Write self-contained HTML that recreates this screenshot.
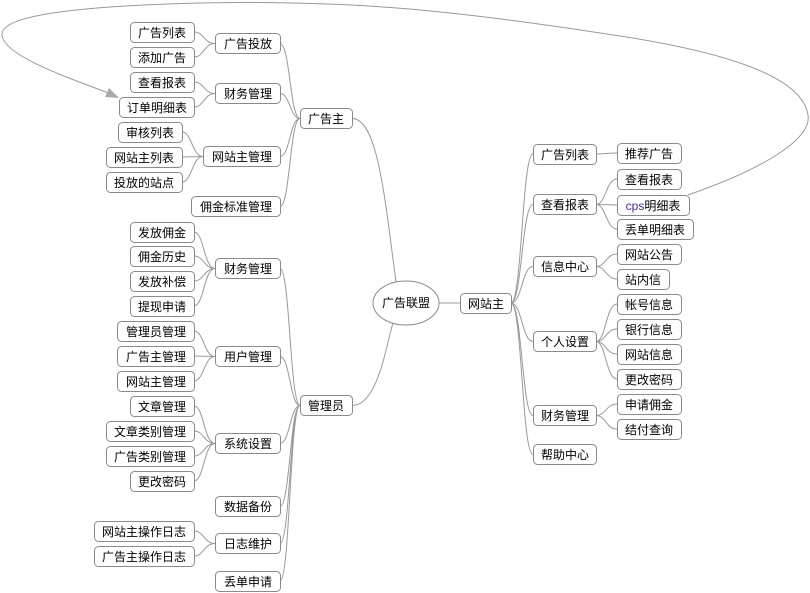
<!DOCTYPE html>
<html><head><meta charset="utf-8"><style>
html,body{margin:0;padding:0;background:#fff;}
svg{display:block;}
text{font-family:"Liberation Sans","Noto Sans CJK SC","WenQuanYi Zen Hei",sans-serif;font-size:12px;fill:#000;text-anchor:middle;}
rect{fill:#fff;stroke:#8a8a8a;stroke-width:1;}
path{fill:none;stroke:#999;stroke-width:1;}
</style></head><body>
<svg width="810" height="593" viewBox="0 0 810 593" xmlns="http://www.w3.org/2000/svg">
<!-- loop -->
<path d="M688,195 C760,170 812,140 808,115 C802,75 720,50 600,33 C450,10 350,0 200,3 C80,6 0,15 2,35 C4,55 60,75 114,95" stroke="#aaa"/>
<polygon points="119,98 109,88 105,97" fill="#aaa"/>
<!-- left connectors -->
<path d="M215,43.5 C204,43.5 204,32 194,32 M215,43.5 C204,43.5 204,57 194,57"/>
<path d="M215,93.5 C204,93.5 204,82 194,82 M215,93.5 C204,93.5 204,107 194,107"/>
<path d="M203,156.5 C192,156.5 192,132 182,132 M203,156.5 L182,157 M203,156.5 C192,156.5 192,182 182,182"/>
<path d="M300,118.5 C290,118.5 290,43.5 280,43.5 M300,118.5 C290,118.5 290,93.5 280,93.5 M300,118.5 C290,118.5 290,156.5 280,156.5 M300,118.5 C290,118.5 290,206.5 280,206.5"/>
<path d="M300,405.5 C290,405.5 290,268.5 280,268.5 M300,405.5 C290,405.5 290,356.5 280,356.5 M300,405.5 C290,405.5 290,443.5 280,443.5 M300,405.5 C290,405.5 290,506.5 280,506.5 M300,405.5 C290,405.5 290,543.5 280,543.5 M300,405.5 C290,405.5 290,581 280,581"/>
<path d="M215,268.5 C204,268.5 204,232 194,232 M215,268.5 C204,268.5 204,256 194,256 M215,268.5 C204,268.5 204,281 194,281 M215,268.5 C204,268.5 204,306 194,306"/>
<path d="M215,356.5 C204,356.5 204,331 194,331 M215,356.5 L194,356 M215,356.5 C204,356.5 204,381 194,381"/>
<path d="M215,443.5 C204,443.5 204,406 194,406 M215,443.5 C204,443.5 204,431 194,431 M215,443.5 C204,443.5 204,456 194,456 M215,443.5 C204,443.5 204,481 194,481"/>
<path d="M215,543.5 C204,543.5 204,531 194,531 M215,543.5 C204,543.5 204,556 194,556"/>
<path d="M352,118.5 C378,118.5 385,200 396,282 M352,405.5 C378,405.5 386,345 393,323"/>
<path d="M439,303 L460,303"/>
<!-- right connectors -->
<path d="M511,303 C522,303 522,154 533,154 M511,303 C522,303 522,204.5 533,204.5 M511,303 C522,303 522,266.5 533,266.5 M511,303 C522,303 522,341.5 533,341.5 M511,303 C522,303 522,415.5 533,415.5 M511,303 C522,303 522,454.5 533,454.5"/>
<path d="M596,154 C606,154 606,153 617,153"/>
<path d="M596,204.5 C606,204.5 606,179 617,179 M596,204.5 L617,205 M596,204.5 C606,204.5 606,229 617,229"/>
<path d="M596,266.5 C606,266.5 606,254 617,254 M596,266.5 C606,266.5 606,279 617,279"/>
<path d="M596,341.5 C606,341.5 606,304 617,304 M596,341.5 C606,341.5 606,329 617,329 M596,341.5 C606,341.5 606,354 617,354 M596,341.5 C606,341.5 606,379 617,379"/>
<path d="M596,415.5 C606,415.5 606,404 617,404 M596,415.5 C606,415.5 606,429 617,429"/>
<!-- center -->
<ellipse cx="406" cy="303" rx="33" ry="22" fill="#fff" stroke="#8a8a8a"/>
<text x="406" y="307">广告联盟</text>
<!-- left boxes -->
<rect x="130.5" y="22.5" width="64" height="20" rx="4"/><text x="162" y="37">广告列表</text>
<rect x="130.5" y="47.5" width="64" height="20" rx="4"/><text x="162" y="62">添加广告</text>
<rect x="215.5" y="33.5" width="65" height="20" rx="4"/><text x="248" y="48">广告投放</text>
<rect x="130.5" y="72.5" width="64" height="20" rx="4"/><text x="162" y="87">查看报表</text>
<rect x="119.5" y="97.5" width="75" height="20" rx="4"/><text x="157" y="112">订单明细表</text>
<rect x="215.5" y="83.5" width="65" height="20" rx="4"/><text x="248" y="98">财务管理</text>
<rect x="118.5" y="122.5" width="64" height="20" rx="4"/><text x="150" y="137">审核列表</text>
<rect x="106.5" y="147.5" width="76" height="20" rx="4"/><text x="144" y="162">网站主列表</text>
<rect x="106.5" y="172.5" width="76" height="20" rx="4"/><text x="144" y="187">投放的站点</text>
<rect x="203.5" y="146.5" width="77" height="20" rx="4"/><text x="242" y="161">网站主管理</text>
<rect x="191.5" y="196.5" width="89" height="20" rx="4"/><text x="236" y="211">佣金标准管理</text>
<rect x="300.5" y="108.5" width="52" height="20" rx="4"/><text x="326" y="123">广告主</text>
<rect x="130.5" y="222.5" width="64" height="20" rx="4"/><text x="162" y="237">发放佣金</text>
<rect x="130.5" y="246.5" width="64" height="20" rx="4"/><text x="162" y="261">佣金历史</text>
<rect x="130.5" y="271.5" width="64" height="20" rx="4"/><text x="162" y="286">发放补偿</text>
<rect x="130.5" y="296.5" width="64" height="20" rx="4"/><text x="162" y="311">提现申请</text>
<rect x="215.5" y="258.5" width="65" height="20" rx="4"/><text x="248" y="273">财务管理</text>
<rect x="117.5" y="321.5" width="77" height="20" rx="4"/><text x="156" y="336">管理员管理</text>
<rect x="117.5" y="346.5" width="77" height="20" rx="4"/><text x="156" y="361">广告主管理</text>
<rect x="117.5" y="371.5" width="77" height="20" rx="4"/><text x="156" y="386">网站主管理</text>
<rect x="215.5" y="346.5" width="65" height="20" rx="4"/><text x="248" y="361">用户管理</text>
<rect x="130.5" y="396.5" width="64" height="20" rx="4"/><text x="162" y="411">文章管理</text>
<rect x="106.5" y="421.5" width="88" height="20" rx="4"/><text x="150" y="436">文章类别管理</text>
<rect x="106.5" y="446.5" width="88" height="20" rx="4"/><text x="150" y="461">广告类别管理</text>
<rect x="130.5" y="471.5" width="64" height="20" rx="4"/><text x="162" y="486">更改密码</text>
<rect x="215.5" y="433.5" width="65" height="20" rx="4"/><text x="248" y="448">系统设置</text>
<rect x="215.5" y="496.5" width="65" height="20" rx="4"/><text x="248" y="511">数据备份</text>
<rect x="94.5" y="521.5" width="100" height="20" rx="4"/><text x="144" y="536">网站主操作日志</text>
<rect x="94.5" y="546.5" width="100" height="20" rx="4"/><text x="144" y="561">广告主操作日志</text>
<rect x="215.5" y="533.5" width="65" height="20" rx="4"/><text x="248" y="548">日志维护</text>
<rect x="215.5" y="571.5" width="65" height="20" rx="4"/><text x="248" y="586">丢单申请</text>
<rect x="300.5" y="395.5" width="52" height="20" rx="4"/><text x="326" y="410">管理员</text>
<!-- right boxes -->
<rect x="460.5" y="293.5" width="51" height="20" rx="4"/><text x="486" y="308">网站主</text>
<rect x="533.5" y="144.5" width="63" height="20" rx="4"/><text x="565" y="159">广告列表</text>
<rect x="617.5" y="143.5" width="64" height="20" rx="4"/><text x="649" y="158">推荐广告</text>
<rect x="533.5" y="194.5" width="63" height="20" rx="4"/><text x="565" y="209">查看报表</text>
<rect x="617.5" y="169.5" width="64" height="20" rx="4"/><text x="649" y="184">查看报表</text>
<rect x="617.5" y="195.5" width="72" height="20" rx="4"/><text x="653" y="210"><tspan fill="#4a1fa8">cps</tspan>明细表</text>
<rect x="617.5" y="219.5" width="76" height="20" rx="4"/><text x="655" y="234">丢单明细表</text>
<rect x="533.5" y="256.5" width="63" height="20" rx="4"/><text x="565" y="271">信息中心</text>
<rect x="617.5" y="244.5" width="64" height="20" rx="4"/><text x="649" y="259">网站公告</text>
<rect x="617.5" y="269.5" width="52" height="20" rx="4"/><text x="643" y="284">站内信</text>
<rect x="533.5" y="331.5" width="63" height="20" rx="4"/><text x="565" y="346">个人设置</text>
<rect x="617.5" y="294.5" width="64" height="20" rx="4"/><text x="649" y="309">帐号信息</text>
<rect x="617.5" y="319.5" width="64" height="20" rx="4"/><text x="649" y="334">银行信息</text>
<rect x="617.5" y="344.5" width="64" height="20" rx="4"/><text x="649" y="359">网站信息</text>
<rect x="617.5" y="369.5" width="64" height="20" rx="4"/><text x="649" y="384">更改密码</text>
<rect x="533.5" y="405.5" width="63" height="20" rx="4"/><text x="565" y="420">财务管理</text>
<rect x="617.5" y="394.5" width="64" height="20" rx="4"/><text x="649" y="409">申请佣金</text>
<rect x="617.5" y="419.5" width="64" height="20" rx="4"/><text x="649" y="434">结付查询</text>
<rect x="533.5" y="444.5" width="63" height="20" rx="4"/><text x="565" y="459">帮助中心</text>
</svg>
</body></html>
